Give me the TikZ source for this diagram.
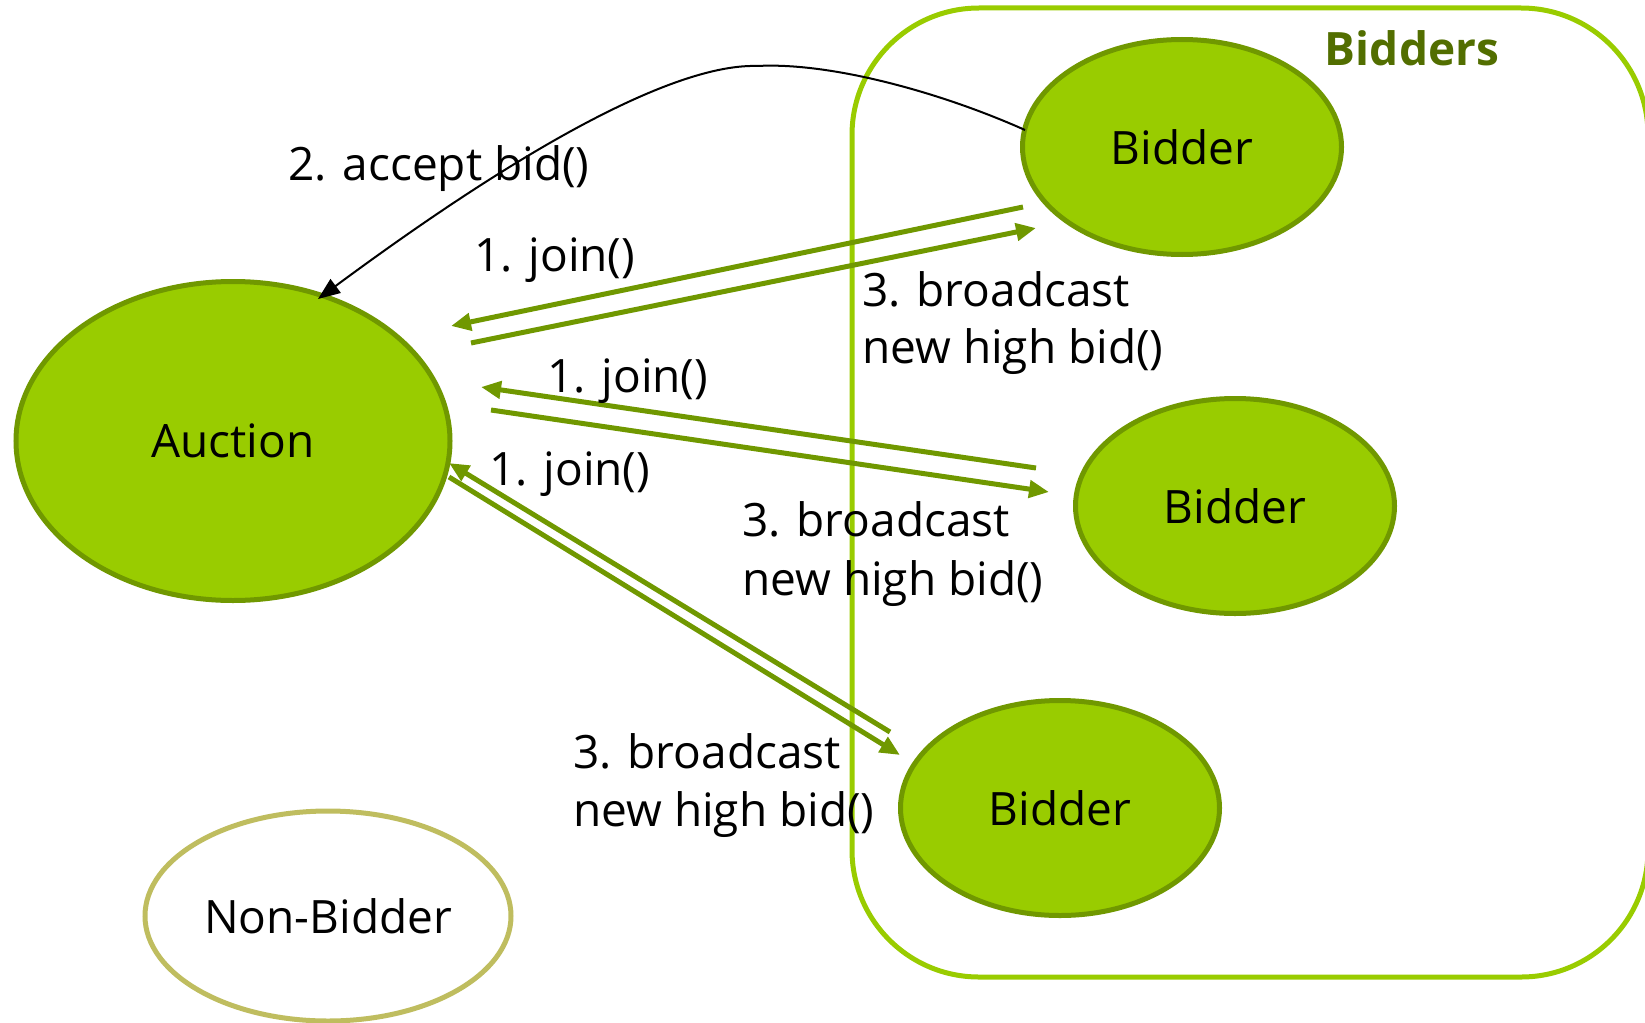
\documentclass[tikz,border=0pt]{standalone}
\usepackage{fontspec}
\setmainfont{Open Sans}
\usetikzlibrary{arrows.meta,shapes.geometric}
\definecolor{bfill}{RGB}{153,204,0}
\definecolor{bdark}{RGB}{112,152,0}
\definecolor{blight}{RGB}{153,204,0}
\definecolor{btitle}{RGB}{82,110,0}
\definecolor{nbline}{RGB}{191,189,95}
\tikzset{
  actor/.style={ellipse, draw=bdark, fill=bfill, line width=5pt, inner sep=0pt},
  nonactor/.style={ellipse, draw=nbline, fill=white, line width=5pt, inner sep=0pt},
  lbl/.style={anchor=base west, inner sep=0pt, text=black},
  msg/.style={draw=bdark, line width=5pt, -{Triangle[length=20pt,width=17pt]}},
  callarrow/.style={draw=black, line width=2pt, -{Triangle[length=22pt,width=17pt]}},
}
\begin{document}
\begin{tikzpicture}[x=1pt,y=-1pt, font=\fontsize{46}{57}\selectfont]
\useasboundingbox (0,0) rectangle (1645,1022);
% group frame
\draw[blight, line width=5pt, rounded corners=127pt] (852,8) rectangle (1648,977);
\node[anchor=base, inner sep=0pt, text=btitle, font=\fontsize{46}{57}\selectfont\bfseries] (grp) at (1412,66) {Bidders};
% actors
\node[actor, minimum width=434pt, minimum height=319pt] (auction) at (233,441) {Auction};
\node[actor, minimum width=319pt, minimum height=215pt] (b1) at (1182,147) {Bidder};
\node[actor, minimum width=319pt, minimum height=215pt] (b2) at (1235,506) {Bidder};
\node[actor, minimum width=319pt, minimum height=215pt] (b3) at (1060,808) {Bidder};
\node[nonactor, minimum width=366pt, minimum height=210pt] (nb) at (328,916) {Non-Bidder};
% connector end points
\coordinate (j1s) at (1023,207); \coordinate (j1e) at (451,326);
\coordinate (c1s) at (471,343);  \coordinate (c1e) at (1036,228);
\coordinate (j2s) at (1036,468); \coordinate (j2e) at (481,387);
\coordinate (c2s) at (491,410);  \coordinate (c2e) at (1049,492);
\coordinate (j3s) at (890,732);  \coordinate (j3e) at (449,463);
\coordinate (c3s) at (449,477);  \coordinate (c3e) at (900,755);
\coordinate (acs) at (1025,130); \coordinate (acp) at (757,66); \coordinate (ace) at (318,299);
% messages
\draw[msg] (j1s) -- (j1e);
\draw[msg] (c1s) -- (c1e);
\draw[msg] (j2s) -- (j2e);
\draw[msg] (c2s) -- (c2e);
\draw[msg] (j3s) -- (j3e);
\draw[msg] (c3s) -- (c3e);
\draw[callarrow] (acs) .. controls (940,92) and (830,62) .. (acp)
  .. controls (690,64) and (560,120) .. (ace);
% labels
\node[lbl] (lacc) at (288,180) {2. accept bid()};
\node[lbl] (lj1) at (474,271) {1. join()};
\node[lbl] (lc1a) at (862,306) {3. broadcast};
\node[lbl] (lc1b) at (862,363) {new high bid()};
\node[lbl] (lj2) at (547,392) {1. join()};
\node[lbl] (lj3) at (489,485) {1. join()};
\node[lbl] (lc2a) at (742,536) {3. broadcast};
\node[lbl] (lc2b) at (742,595) {new high bid()};
\node[lbl] (lc3a) at (573,768) {3. broadcast};
\node[lbl] (lc3b) at (573,826) {new high bid()};
\end{tikzpicture}
\end{document}
